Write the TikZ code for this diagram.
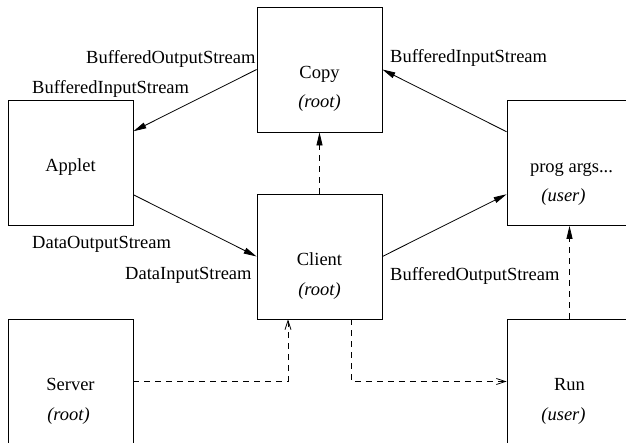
\documentclass[tikz,border=0pt]{standalone}
\usepackage{fontspec}
\setmainfont{Liberation Serif}
\usetikzlibrary{arrows.meta}
\begin{document}
\begin{tikzpicture}[x=1pt,y=-1pt,
  every node/.style={font=\fontsize{18.5}{22}\selectfont},
  box/.style={draw,line width=0.8pt,minimum width=125pt,minimum height=125pt,inner sep=0pt},
  nm/.style={anchor=base,inner sep=0pt},
  lbl/.style={anchor=base west,inner sep=0pt},
  solidarrow/.style={line width=0.8pt,-{Triangle[length=13pt,width=6pt]}},
  dasharrow/.style={line width=0.8pt,dash pattern=on 6pt off 5pt,-{Triangle[length=13pt,width=6pt]}},
  openarrow/.style={line width=0.8pt,dash pattern=on 6pt off 5pt,-{Straight Barb[length=9pt,width=6pt]}}]
\useasboundingbox (0,0) rectangle (626,442);
% boxes
\node[box] (copy) at (319.5,69.5) {};
\node[box] (applet) at (70.5,162.5) {};
\node[box] (client) at (319.5,256.5) {};
\node[box] (prog) at (569.5,163) {};
\node[box] (server) at (70.5,381.5) {};
\node[box] (run) at (569.5,381.5) {};
% box texts
\node[nm] (copyt) at ([yshift=-8.5pt]copy.center) {Copy};
\node[nm] (copyr) at ([yshift=-38pt]copy.center) {\textit{(root)}};
\node[nm] (applett) at ([yshift=-9pt]applet.center) {Applet};
\node[nm] (clientt) at ([yshift=-9pt]client.center) {Client};
\node[nm] (clientr) at ([yshift=-38.5pt]client.center) {\textit{(root)}};
\node[nm] (progt) at ([yshift=-9pt,xshift=2pt]prog.center) {prog args...};
\node[nm] (progr) at ([yshift=-38.5pt,xshift=-6pt]prog.center) {\textit{(user)}};
\node[nm] (servert) at ([yshift=-9pt]server.center) {Server};
\node[nm] (serverr) at ([yshift=-38.5pt,xshift=-2pt]server.center) {\textit{(root)}};
\node[nm] (runt) at ([yshift=-9pt]run.center) {Run};
\node[nm] (runr) at ([yshift=-38.5pt,xshift=-6pt]run.center) {\textit{(user)}};
% connector labels
\node[lbl] (l1) at (86,63) {BufferedOutputStream};
\node[lbl] (l2) at (32,93.5) {BufferedInputStream};
\node[lbl] (l3) at (390,62.5) {BufferedInputStream};
\node[lbl] (l4) at (32,248.5) {DataOutputStream};
\node[lbl] (l5) at (125,279.5) {DataInputStream};
\node[lbl] (l6) at (390,280) {BufferedOutputStream};
% solid connectors
\draw[solidarrow] (copy.west) -- ([yshift=31.25pt]applet.east);
\draw[solidarrow] ([yshift=-32.25pt]applet.east) -- (client.west);
\draw[solidarrow] (client.east) -- ([yshift=-31.25pt]prog.west);
\draw[solidarrow] ([yshift=31.25pt]prog.west) -- (copy.east);
% dashed connectors
\draw[dasharrow] (client.north) -- (copy.south);
\draw[dasharrow] (run.north) -- (prog.south);
\draw[openarrow] (server.east) -| ([xshift=-31.5pt]client.south);
\draw[openarrow] ([xshift=31.5pt]client.south) |- (run.west);
\end{tikzpicture}
\end{document}
